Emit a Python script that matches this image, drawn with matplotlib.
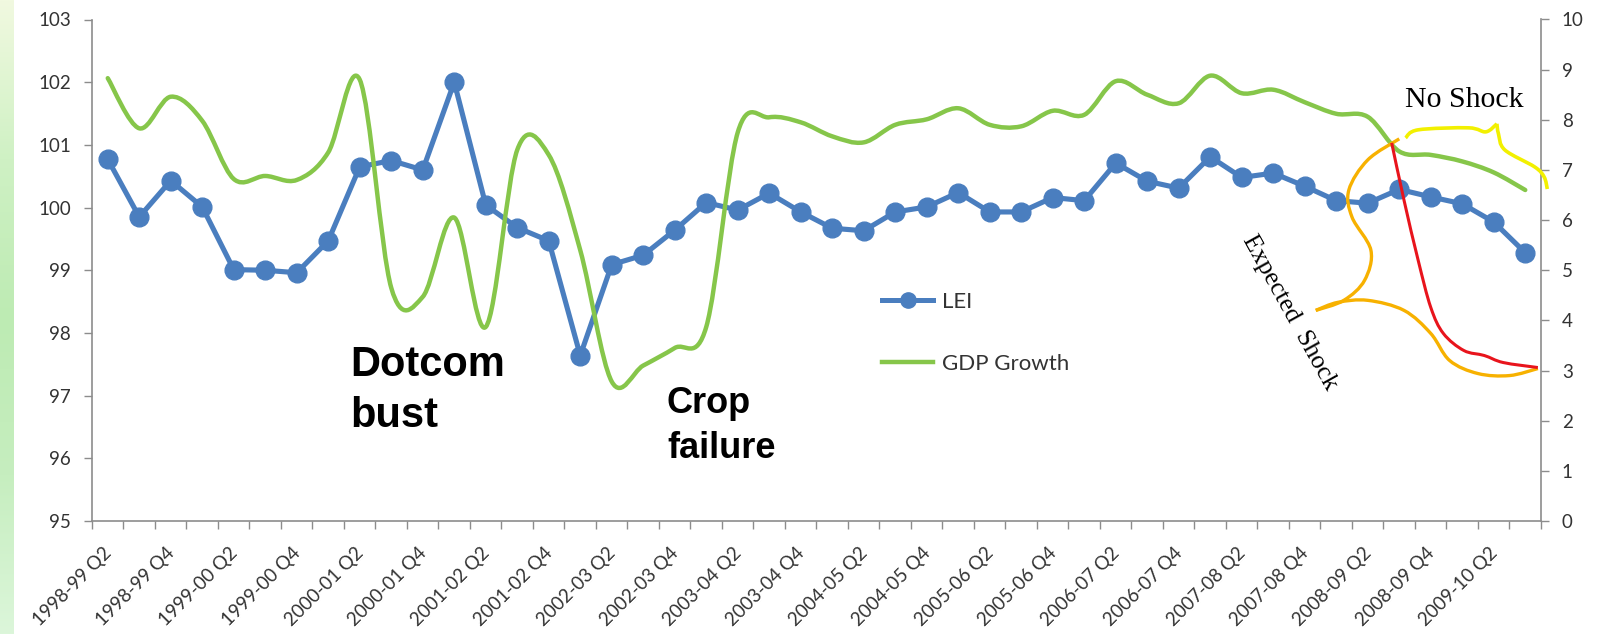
import numpy as np
import matplotlib
matplotlib.use("Agg")
import matplotlib.pyplot as plt
import matplotlib.transforms as mtransforms
from matplotlib.path import Path
from matplotlib.patches import PathPatch
from matplotlib.lines import Line2D
from matplotlib.colors import LinearSegmentedColormap

# ---- data -------------------------------------------------------------
quarters = [
    "1998-99 Q2", "1998-99 Q3", "1998-99 Q4", "1999-00 Q1",
    "1999-00 Q2", "1999-00 Q3", "1999-00 Q4", "2000-01 Q1",
    "2000-01 Q2", "2000-01 Q3", "2000-01 Q4", "2001-02 Q1",
    "2001-02 Q2", "2001-02 Q3", "2001-02 Q4", "2002-03 Q1",
    "2002-03 Q2", "2002-03 Q3", "2002-03 Q4", "2003-04 Q1",
    "2003-04 Q2", "2003-04 Q3", "2003-04 Q4", "2004-05 Q1",
    "2004-05 Q2", "2004-05 Q3", "2004-05 Q4", "2005-06 Q1",
    "2005-06 Q2", "2005-06 Q3", "2005-06 Q4", "2006-07 Q1",
    "2006-07 Q2", "2006-07 Q3", "2006-07 Q4", "2007-08 Q1",
    "2007-08 Q2", "2007-08 Q3", "2007-08 Q4", "2008-09 Q1",
    "2008-09 Q2", "2008-09 Q3", "2008-09 Q4", "2009-10 Q1",
    "2009-10 Q2", "2009-10 Q3",
]

lei = [
    100.77, 99.85, 100.43, 100.01, 99.01, 99.00, 98.96, 99.47,
    100.65, 100.75, 100.60, 102.00, 100.04, 99.68, 99.47, 97.64,
    99.09, 99.24, 99.64, 100.08, 99.96, 100.23, 99.93, 99.67,
    99.63, 99.93, 100.01, 100.24, 99.93, 99.93, 100.16, 100.11,
    100.71, 100.42, 100.31, 100.81, 100.48, 100.55, 100.34, 100.11,
    100.07, 100.29, 100.17, 100.06, 99.77, 99.28,
]

gdp_growth = [
    8.83, 7.83, 8.46, 7.98, 6.82, 6.88, 6.80, 7.35,
    8.80, 4.65, 4.47, 6.05, 3.87, 7.40, 7.30, 5.40,
    2.78, 3.10, 3.45, 3.87, 7.75, 8.05, 7.95, 7.67,
    7.55, 7.90, 8.01, 8.23, 7.90, 7.87, 8.18, 8.10,
    8.77, 8.50, 8.33, 8.88, 8.53, 8.60, 8.35, 8.12,
    8.06, 7.37, 7.30, 7.17, 6.95, 6.60,
]

left_ticks = [95, 96, 97, 98, 99, 100, 101, 102, 103]
right_ticks = [0, 1, 2, 3, 4, 5, 6, 7, 8, 9, 10]

# hand-drawn scenario strokes (quarter position, GDP growth)
shock_x = [40.76, 41.15, 41.6, 42.0, 42.4, 43.05, 43.7, 44.3, 45.4]
shock_y = [7.54, 6.40, 5.20, 4.26, 3.74, 3.40, 3.30, 3.16, 3.06]

shock_brace_x = [41.0, 40.0, 39.4, 39.5, 40.1, 39.9, 39.24, 38.35]
shock_brace_y = [7.62, 7.20, 6.60, 6.06, 5.40, 4.80, 4.40, 4.20]
shock_brace2_x = [38.35, 39.05, 40.0, 41.15, 42.0, 42.6, 43.5, 44.5, 45.4]
shock_brace2_y = [4.20, 4.36, 4.40, 4.20, 3.74, 3.20, 2.94, 2.90, 3.04]

calm_brace_x = [41.2, 41.6, 43.2, 43.75, 44.1]
calm_brace_y = [7.64, 7.80, 7.84, 7.76, 7.92]
calm_brace2_x = [44.1, 44.15, 44.35, 45.3, 45.6, 45.7]
calm_brace2_y = [7.92, 7.72, 7.40, 7.06, 6.86, 6.62]

# ---- style ------------------------------------------------------------
BLUE = "#4a7ebf"
GREEN = "#86c64a"
AXIS = "#8c8c8c"
TEXT = "#333333"
TICK_FONT = "Lato"

W, H = 1606, 634


def smooth_path(xs, ys):
    """Cardinal-spline Bezier path through the given points."""
    pts = np.column_stack([xs, ys]).astype(float)
    n = len(pts)
    verts = [pts[0]]
    codes = [Path.MOVETO]
    for i in range(n - 1):
        p0 = pts[i - 1] if i > 0 else pts[i]
        p1 = pts[i]
        p2 = pts[i + 1]
        p3 = pts[i + 2] if i + 2 < n else pts[i + 1]
        verts += [p1 + (p2 - p0) / 6.0, p2 - (p3 - p1) / 6.0, p2]
        codes += [Path.CURVE4] * 3
    return Path(verts, codes)


def fx(px):
    return px / W


def fy(py):
    return 1 - py / H


fig = plt.figure(figsize=(W / 100, H / 100), dpi=100)
fig.patch.set_facecolor("white")

# pale green strip on the left edge
strip = fig.add_axes([0, 0, 14 / W, 1])
cmap = LinearSegmentedColormap.from_list(
    "strip", ["#f1f9e0", "#cff1c4", "#bdebb3", "#c6eebf", "#dcf6da"])
strip.imshow(np.linspace(0, 1, 256).reshape(-1, 1), aspect="auto", cmap=cmap,
             extent=[0, 1, 0, 1], origin="upper")
strip.set_axis_off()

ax = fig.add_axes([fx(92), fy(521), fx(1541) - fx(92), fy(19.5) - fy(521)])
ax2 = ax.twinx()

x = np.arange(len(quarters))

# LEI series
ax.plot(x, lei, color=BLUE, lw=3.7, marker="o", ms=13.5, zorder=3,
        solid_joinstyle="round", label="LEI")

# GDP growth, smoothed line on the secondary axis
ax2.add_patch(PathPatch(smooth_path(x, gdp_growth), facecolor="none",
                        edgecolor=GREEN, lw=3.2, capstyle="round",
                        joinstyle="round", zorder=3))

# scenario strokes
ax2.add_patch(PathPatch(smooth_path(shock_brace_x, shock_brace_y), fc="none",
                        ec="#f7b100", lw=2.4, clip_on=False, zorder=4))
ax2.add_patch(PathPatch(smooth_path(shock_brace2_x, shock_brace2_y), fc="none",
                        ec="#f7b100", lw=2.4, clip_on=False, zorder=4))
ax2.add_patch(PathPatch(smooth_path(shock_x, shock_y), fc="none",
                        ec="#e8141c", lw=2.2, clip_on=False, zorder=5))
ax2.add_patch(PathPatch(smooth_path(calm_brace_x, calm_brace_y), fc="none",
                        ec="#f2f000", lw=2.6, clip_on=False, zorder=4))
ax2.add_patch(PathPatch(smooth_path(calm_brace2_x, calm_brace2_y), fc="none",
                        ec="#f2f000", lw=2.6, clip_on=False, zorder=4))

# ---- axes -------------------------------------------------------------
ax.set_xlim(-0.5, len(quarters) - 0.5)
ax.set_ylim(95, 103)
ax2.set_ylim(0, 10)

for a in (ax, ax2):
    for s in a.spines.values():
        s.set_visible(False)
ax.spines["left"].set_visible(True)
ax.spines["bottom"].set_visible(True)
ax2.spines["right"].set_visible(True)
for s in (ax.spines["left"], ax.spines["bottom"], ax2.spines["right"]):
    s.set_color(AXIS)
    s.set_linewidth(1.2)

ax.set_yticks(left_ticks)
ax.set_yticklabels([str(v) for v in left_ticks])
ax2.set_yticks(right_ticks)
ax2.set_yticklabels([str(v) for v in right_ticks])
ax.tick_params(axis="y", direction="out", length=6, width=1, color=AXIS,
               pad=9, labelsize=13.5, labelcolor=TEXT)
ax2.tick_params(axis="y", direction="out", length=6, width=1, color=AXIS,
                pad=9, labelsize=13.5, labelcolor=TEXT)

ax.set_xticks(x[::2])
ax.set_xticklabels(quarters[::2], rotation=45, ha="right",
                   rotation_mode="anchor")
ax.set_xticks(np.arange(-0.5, len(quarters), 1.0), minor=True)
ax.tick_params(axis="x", which="major", length=0, pad=14, labelsize=13.5,
               labelcolor=TEXT)
ax.tick_params(axis="x", which="minor", direction="out", length=6, width=1,
               color=AXIS)
shift = mtransforms.ScaledTranslation(-5 / 100, -4 / 100, fig.dpi_scale_trans)
for lab in ax.get_xticklabels():
    lab.set_transform(lab.get_transform() + shift)
for lab in ax.get_xticklabels() + ax.get_yticklabels() + ax2.get_yticklabels():
    lab.set_fontfamily(TICK_FONT)

# ---- legend -----------------------------------------------------------
handles = [
    Line2D([], [], color=BLUE, lw=3.6, marker="o", ms=11),
    Line2D([], [], color=GREEN, lw=3.2),
]
leg = fig.legend(handles, ["LEI", "GDP Growth"], loc="upper left",
                 bbox_to_anchor=(fx(862), fy(272)), frameon=False,
                 labelspacing=1.9, handlelength=2.3, handletextpad=0.4,
                 prop={"family": TICK_FONT, "size": 16})
for t in leg.get_texts():
    t.set_color(TEXT)

# ---- annotations ------------------------------------------------------
fig.text(fx(350), fy(376), "Dotcom", fontsize=30, fontweight="bold",
         family="Liberation Sans", color="black", va="baseline")
fig.text(fx(350), fy(427), "bust", fontsize=30, fontweight="bold",
         family="Liberation Sans", color="black", va="baseline")
fig.text(fx(667), fy(413), "Crop", fontsize=26, fontweight="bold",
         family="Liberation Sans", color="black", va="baseline")
fig.text(fx(667), fy(458), "failure", fontsize=26, fontweight="bold",
         family="Liberation Sans", color="black", va="baseline")

fig.text(fx(1405), fy(107), "No Shock", fontsize=21.5,
         family="Liberation Serif", color="black", va="baseline")
fig.text(fx(1290), fy(313), "Expected  Shock", fontsize=18.5,
         family="Liberation Serif", color="black", ha="center", va="center",
         rotation=-61, rotation_mode="anchor")

fig.savefig("out.png", dpi=100, facecolor="white")
